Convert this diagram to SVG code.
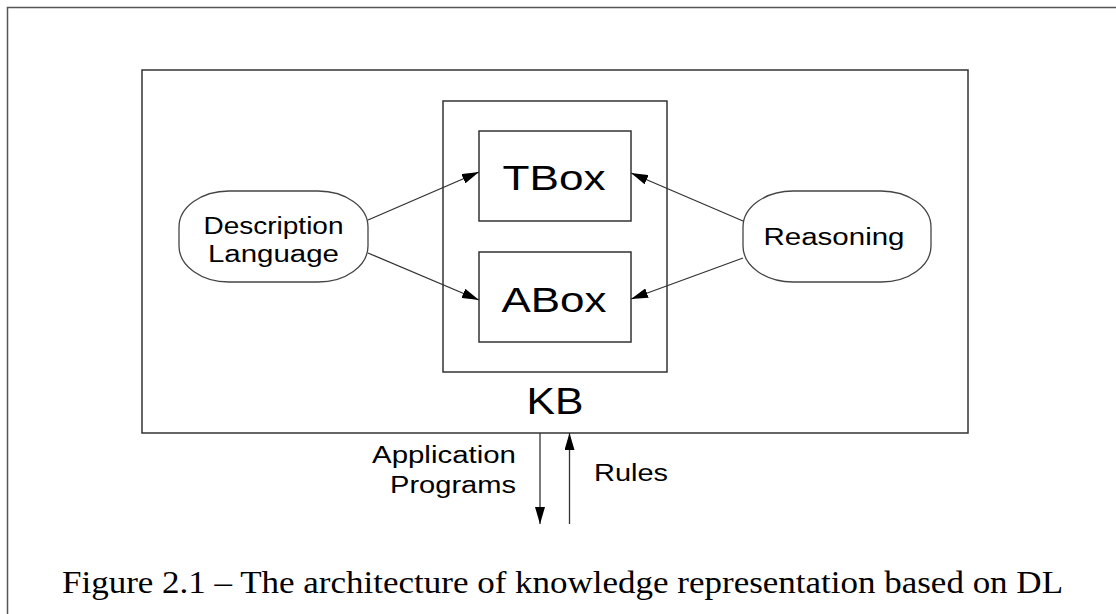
<svg xmlns="http://www.w3.org/2000/svg" width="1116" height="614" viewBox="0 0 1116 614">
<style>
  .frame { fill: none; stroke: #555; stroke-width: 1.5; }
  .box { fill: #fff; stroke: #333; stroke-width: 1.5; }
  .oval { fill: #fff; stroke: #444; stroke-width: 1.3; }
  .conn { fill: none; stroke: #333; stroke-width: 1.3; }
  .lbl { font-family: "Liberation Sans", Arial, sans-serif; fill: #000; }
  .cap { font-family: "Liberation Serif", "Times New Roman", serif; fill: #000; }
</style>
<defs>
  <marker id="arrow" markerUnits="userSpaceOnUse" markerWidth="18" markerHeight="10" refX="17" refY="5" orient="auto">
    <path d="M0,0 L17,5 L0,10 z" fill="#000"/>
  </marker>
</defs>
<rect width="1116" height="614" fill="#fff"/>
<g id="frame">
  <path class="frame" d="M7.5,614 L7.5,7.5 L1116,7.5"/>
</g>
<g id="kb">
  <rect class="box" x="142" y="70" width="826" height="363"/>
  <text class="lbl" x="526.5" y="414" font-size="36" textLength="57" lengthAdjust="spacingAndGlyphs">KB</text>
</g>
<g id="kb-inner">
  <rect class="box" x="443" y="101" width="224" height="271"/>
</g>
<g id="tbox">
  <rect class="box" x="479" y="131" width="152" height="90"/>
  <text class="lbl" x="502.5" y="190" font-size="35" textLength="103" lengthAdjust="spacingAndGlyphs">TBox</text>
</g>
<g id="abox">
  <rect class="box" x="479" y="252" width="152" height="90"/>
  <text class="lbl" x="501.5" y="312" font-size="35" textLength="105" lengthAdjust="spacingAndGlyphs">ABox</text>
</g>
<g id="description-language">
  <rect class="oval" x="179" y="191" width="189" height="91" rx="50" ry="36"/>
  <text class="lbl" x="203.5" y="234" font-size="23" textLength="140" lengthAdjust="spacingAndGlyphs">Description</text>
  <text class="lbl" x="208" y="262" font-size="23" textLength="131" lengthAdjust="spacingAndGlyphs">Language</text>
</g>
<g id="reasoning">
  <rect class="oval" x="743" y="191" width="188" height="91" rx="50" ry="36"/>
  <text class="lbl" x="763.5" y="245" font-size="23" textLength="141" lengthAdjust="spacingAndGlyphs">Reasoning</text>
</g>
<g id="application-programs">
  <text class="lbl" x="372" y="463" font-size="23" textLength="144" lengthAdjust="spacingAndGlyphs">Application</text>
  <text class="lbl" x="390" y="493" font-size="23" textLength="126" lengthAdjust="spacingAndGlyphs">Programs</text>
</g>
<g id="rules">
  <text class="lbl" x="594" y="481" font-size="23" textLength="74" lengthAdjust="spacingAndGlyphs">Rules</text>
</g>
<g id="connectors">
  <line class="conn" x1="368" y1="220" x2="479" y2="172" marker-end="url(#arrow)"/>
  <line class="conn" x1="368" y1="253" x2="479" y2="300" marker-end="url(#arrow)"/>
  <line class="conn" x1="743" y1="221" x2="631" y2="173" marker-end="url(#arrow)"/>
  <line class="conn" x1="743" y1="258" x2="631" y2="299" marker-end="url(#arrow)"/>
  <line class="conn" x1="540" y1="433" x2="540" y2="524" marker-end="url(#arrow)"/>
  <line class="conn" x1="569.5" y1="524" x2="569.5" y2="433" marker-end="url(#arrow)"/>
</g>
<g id="caption">
  <text class="cap" x="62" y="593" font-size="32" textLength="1001" lengthAdjust="spacingAndGlyphs">Figure 2.1 – The architecture of knowledge representation based on DL</text>
</g>
</svg>
